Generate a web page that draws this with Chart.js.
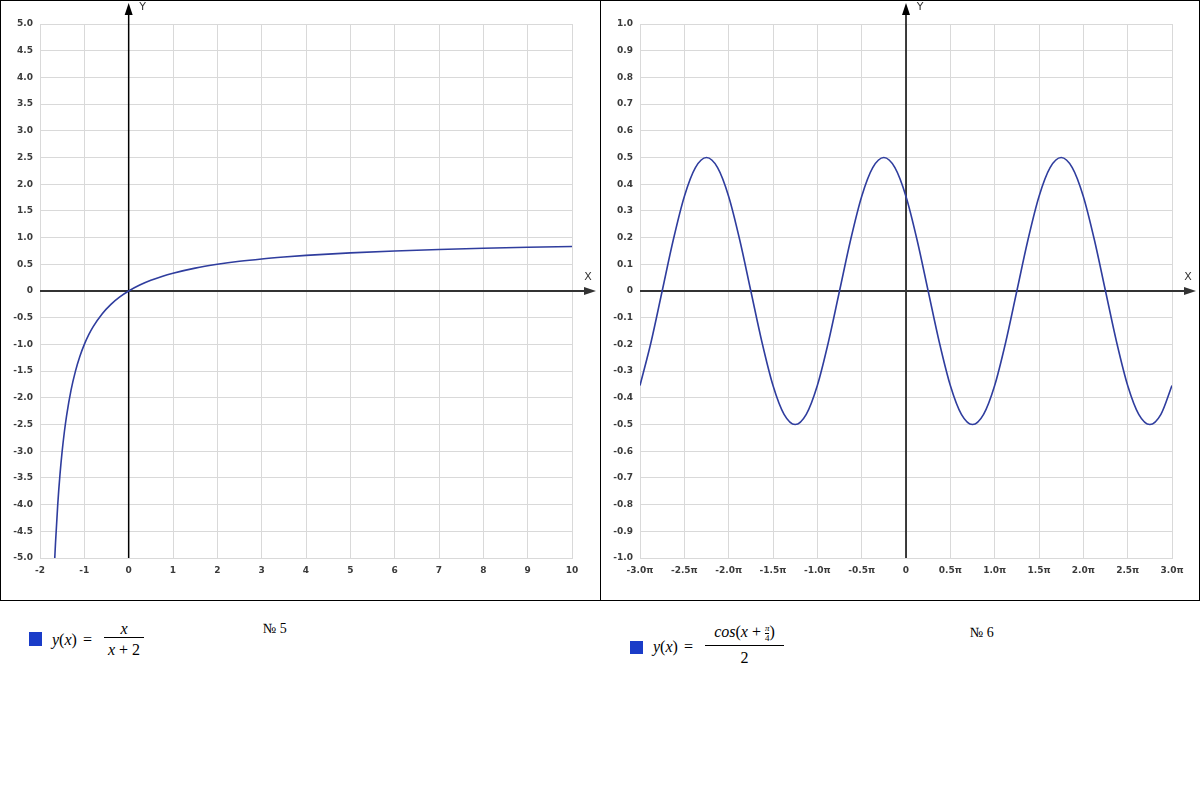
<!DOCTYPE html>
<html><head><meta charset="utf-8">
<script src="https://cdn.jsdelivr.net/npm/chart.js@4"></script>
<style>
html,body{margin:0;padding:0;background:#fff;width:1200px;height:793px;overflow:hidden;position:relative;}
.panel{position:absolute;top:0;height:601px;box-sizing:border-box;border:1px solid #000;}
canvas{position:absolute;top:0;}
.m{position:absolute;font-family:"Liberation Serif","DejaVu Serif",serif;color:#000;white-space:nowrap;line-height:1;}
.i{font-style:italic;}
.sq{position:absolute;background:#1a3cc8;}
.bar{position:absolute;height:1px;background:#000;}
</style></head>
<body>
<div class="panel" style="left:0;width:601px;"></div>
<div class="panel" style="left:600px;width:600px;"></div>
<canvas id="c1" width="600" height="600" style="left:0;width:600px;height:600px;"></canvas>
<canvas id="c2" width="600" height="600" style="left:600px;width:600px;height:600px;"></canvas>

<div class="sq" style="left:29px;top:632px;width:13px;height:14px;"></div>
<div class="m" style="left:52px;top:632px;font-size:16px;word-spacing:2px;"><span class="i">y</span>(<span class="i">x</span>) =</div>
<div class="m i" style="left:104px;width:40px;text-align:center;top:621px;font-size:16px;">x</div>
<div class="bar" style="left:104px;top:637px;width:40px;"></div>
<div class="m" style="left:104px;width:40px;text-align:center;top:642px;font-size:16px;"><span class="i">x</span> + 2</div>
<div class="m" style="left:263px;top:622px;font-size:14px;">№ 5</div>

<div class="sq" style="left:630px;top:641px;width:13px;height:13px;"></div>
<div class="m" style="left:653px;top:639px;font-size:16px;word-spacing:2px;"><span class="i">y</span>(<span class="i">x</span>) =</div>
<div class="m" style="left:705px;width:79px;text-align:center;top:624px;font-size:16px;"><span class="i">cos</span>(<span class="i">x</span> + <span style="display:inline-block;vertical-align:middle;font-size:9px;text-align:center;line-height:1;"><span class="i" style="display:block;border-bottom:1px solid #000;">π</span><span style="display:block;">4</span></span>)</div>
<div class="bar" style="left:705px;top:645px;width:79px;"></div>
<div class="m" style="left:705px;width:79px;text-align:center;top:650px;font-size:16px;">2</div>
<div class="m" style="left:970px;top:626px;font-size:14px;">№ 6</div>

<script>
// ---- data ----
const xs1 = [-1.667,-1.65,-1.6,-1.55,-1.5,-1.45,-1.4,-1.3,-1.2,-1.1,-1.0,-0.9,-0.8,-0.6,-0.4,-0.2,0,0.25,0.5,0.75,1,1.5,2,2.5,3,3.5,4,5,6,7,8,9,10];
const ys1 = [-5.0,-4.714,-4.0,-3.444,-3.0,-2.636,-2.333,-1.857,-1.5,-1.222,-1.0,-0.818,-0.667,-0.429,-0.25,-0.111,0,0.111,0.2,0.273,0.333,0.429,0.5,0.556,0.6,0.636,0.667,0.714,0.75,0.778,0.8,0.818,0.833];

const xs2 = [-3,-2.875,-2.75,-2.625,-2.5,-2.375,-2.25,-2.125,-2,-1.875,-1.75,-1.625,-1.5,-1.375,-1.25,-1.125,-1,-0.875,-0.75,-0.625,-0.5,-0.375,-0.25,-0.125,0,0.125,0.25,0.375,0.5,0.625,0.75,0.875,1,1.125,1.25,1.375,1.5,1.625,1.75,1.875,2,2.125,2.25,2.375,2.5,2.625,2.75,2.875,3];
const ys2 = [-0.354,-0.191,0,0.191,0.354,0.462,0.5,0.462,0.354,0.191,0,-0.191,-0.354,-0.462,-0.5,-0.462,-0.354,-0.191,0,0.191,0.354,0.462,0.5,0.462,0.354,0.191,0,-0.191,-0.354,-0.462,-0.5,-0.462,-0.354,-0.191,0,0.191,0.354,0.462,0.5,0.462,0.354,0.191,0,-0.191,-0.354,-0.462,-0.5,-0.462,-0.354];

const xRange1 = [-2, 10], xStep1 = 1;
const yRange1 = [-5, 5], yStep1 = 0.5;
const xRange2 = [-3, 3], xStep2 = 0.5;   // in units of π
const yRange2 = [-1, 1], yStep2 = 0.1;

const lineColor = '#2f3d9e';
const gridColor = '#d9d9d9';

Chart.defaults.font.family = '"DejaVu Sans", sans-serif';
Chart.defaults.font.size = 9;
Chart.defaults.font.weight = 'bold';
Chart.defaults.color = '#3a3a3a';

const axesPlugin = {
  id: 'axesArrows',
  beforeDatasetsDraw(chart) {
    const ctx = chart.ctx, a = chart.chartArea;
    const x0 = chart.scales.x.getPixelForValue(0);
    const y0 = chart.scales.y.getPixelForValue(0);
    ctx.save();
    // Y axis
    ctx.strokeStyle = '#000'; ctx.lineWidth = 1.5;
    ctx.beginPath(); ctx.moveTo(x0, 13); ctx.lineTo(x0, a.bottom); ctx.stroke();
    ctx.fillStyle = '#000';
    ctx.beginPath(); ctx.moveTo(x0, 3); ctx.lineTo(x0 - 4, 15); ctx.lineTo(x0 + 4, 15); ctx.closePath(); ctx.fill();
    // X axis
    ctx.strokeStyle = '#333'; ctx.lineWidth = 1.8;
    ctx.beginPath(); ctx.moveTo(a.left, y0); ctx.lineTo(588, y0); ctx.stroke();
    ctx.fillStyle = '#333';
    ctx.beginPath(); ctx.moveTo(596, y0); ctx.lineTo(584, y0 - 4); ctx.lineTo(584, y0 + 4); ctx.closePath(); ctx.fill();
    // labels
    ctx.font = '11px "DejaVu Sans", sans-serif';
    ctx.fillStyle = '#333'; ctx.textAlign = 'center'; ctx.textBaseline = 'middle';
    ctx.fillText('Y', x0 + 14, 7);
    ctx.fillText('X', 588, 277);
    ctx.restore();
  }
};

function makeChart(id, xs, ys, xr, xs_, yr, ys_, xfmt, yfmt) {
  return new Chart(document.getElementById(id), {
    type: 'scatter',
    data: { datasets: [{
      data: xs.map((x, i) => ({x, y: ys[i]})),
      showLine: true, borderColor: lineColor, borderWidth: 1.6,
      pointRadius: 0, cubicInterpolationMode: 'monotone', fill: false
    }]},
    options: {
      responsive: false, animation: false,
      layout: { padding: { top: 24, right: 28, left: 0, bottom: 0 } },
      plugins: { legend: { display: false }, tooltip: { enabled: false } },
      scales: {
        x: {
          type: 'linear', min: xr[0], max: xr[1],
          grid: { color: gridColor, drawTicks: false },
          border: { color: gridColor },
          ticks: { stepSize: xs_, padding: 7, callback: xfmt, maxRotation: 0, autoSkip: false },
          afterFit(s) { s.height = 42; }
        },
        y: {
          type: 'linear', min: yr[0], max: yr[1],
          grid: { color: gridColor, drawTicks: false },
          border: { color: gridColor },
          ticks: { stepSize: ys_, padding: 7, callback: yfmt, autoSkip: false },
          afterFit(s) { s.width = 40; }
        }
      }
    },
    plugins: [axesPlugin]
  });
}

const fmt1 = v => { const r = Math.round(v * 10) / 10; return r === 0 ? '0' : r.toFixed(1); };
makeChart('c1', xs1, ys1, xRange1, xStep1, yRange1, yStep1, v => String(Math.round(v)), fmt1);
makeChart('c2', xs2, ys2, xRange2, xStep2, yRange2, yStep2,
  v => { const r = Math.round(v * 10) / 10; return r === 0 ? '0' : r.toFixed(1) + 'π'; }, fmt1);
</script>
</body></html>
